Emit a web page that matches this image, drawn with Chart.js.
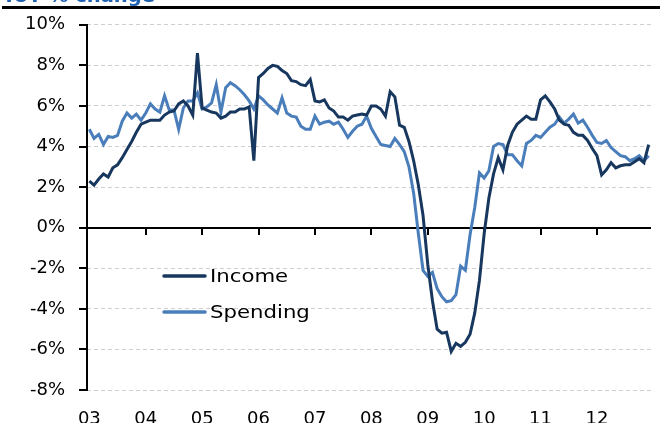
<!DOCTYPE html>
<html><head><meta charset="utf-8">
<script src="https://cdn.jsdelivr.net/npm/chart.js@4.4.0/dist/chart.umd.min.js"></script>
<style>html,body{margin:0;padding:0;background:#fff;}#wrap{width:663px;height:423px;position:relative;}</style>
</head><body><div id="wrap"><canvas id="c" width="663" height="423"></canvas></div>
<script>
const titleText = 'YoY % change';
const yearLabels = ['03','04','05','06','07','08','09','10','11','12'];
const seriesNames = ['Income','Spending'];
const yTickValues = [-8,-6,-4,-2,0,2,4,6,8,10];
const incomeValues = [
 2.3,2.1,2.4,2.65,2.5,2.95,3.1,3.45,3.85,4.25,4.7,5.1,
 5.2,5.3,5.3,5.3,5.55,5.7,5.75,6.1,6.25,6.0,5.55,8.6,
 5.9,5.8,5.7,5.65,5.4,5.5,5.7,5.7,5.85,5.85,5.95,3.3,
 7.4,7.6,7.85,8.0,7.95,7.75,7.6,7.25,7.2,7.05,7.0,7.3,
 6.25,6.2,6.3,5.9,5.75,5.45,5.45,5.3,5.5,5.55,5.6,5.55,
 6.0,6.0,5.85,5.5,6.7,6.45,5.05,4.95,4.25,3.3,2.1,0.6,
 -1.8,-3.6,-5.0,-5.2,-5.15,-6.1,-5.7,-5.85,-5.65,-5.25,-4.2,-2.6,
 -0.3,1.45,2.65,3.45,2.85,4.05,4.7,5.1,5.3,5.5,5.35,5.35,
 6.3,6.5,6.2,5.85,5.3,5.1,5.05,4.7,4.55,4.55,4.3,3.9,
 3.55,2.6,2.85,3.2,2.95,3.05,3.1,3.1,3.25,3.4,3.2,4.1
];
const spendingValues = [
 4.85,4.4,4.6,4.1,4.5,4.45,4.55,5.25,5.65,5.4,5.6,5.3,
 5.65,6.1,5.85,5.7,6.5,5.8,5.8,4.85,5.9,6.25,6.25,6.65,
 5.85,5.95,6.15,7.05,5.7,6.9,7.15,7.0,6.8,6.55,6.25,5.85,
 6.5,6.3,6.05,5.85,5.65,6.4,5.65,5.5,5.45,5.0,4.85,4.85,
 5.5,5.1,5.2,5.25,5.1,5.2,4.85,4.45,4.75,5.0,5.1,5.5,
 4.9,4.5,4.1,4.05,4.0,4.4,4.1,3.75,3.0,1.7,-0.3,-2.1,
 -2.4,-2.2,-3.0,-3.4,-3.65,-3.6,-3.3,-1.9,-2.1,-0.35,1.0,2.7,
 2.45,2.8,4.0,4.15,4.1,3.6,3.6,3.3,3.05,4.15,4.3,4.55,
 4.45,4.7,4.95,5.1,5.45,5.15,5.35,5.6,5.15,5.3,4.95,4.55,
 4.2,4.15,4.3,3.95,3.75,3.55,3.5,3.3,3.4,3.55,3.3,3.55
];
const toPoints = arr => arr.map((v, i) => ({x: i, y: v}));

const FONT = '"DejaVu Sans", sans-serif';
const decorPlugin = {
  id: 'decor',
  beforeDatasetsDraw(c){
    const ctx = c.ctx, x = c.scales.x, y = c.scales.y, a = c.chartArea;
    const y0 = Math.round(y.getPixelForValue(0));
    const lx = Math.round(a.left);
    ctx.save();
    ctx.setLineDash([]);
    ctx.fillStyle = '#000';
    ctx.fillRect(lx - 1, Math.round(a.top) - 1, 2, Math.round(a.bottom - a.top) + 2);
    yTickValues.forEach(v => {
      const py = Math.round(y.getPixelForValue(v));
      ctx.fillRect(lx - 8, py - 1, 8, 2);
    });
    ctx.fillRect(lx, y0 - 1, Math.round(a.right) - lx, 2);
    for (let k = 1; k < yearLabels.length; k++) {
      const px = Math.round(x.getPixelForValue(k * 12));
      ctx.fillRect(px - 1, y0, 2, 7);
    }
    ctx.restore();
  },
  afterDatasetsDraw(c){
    const ctx = c.ctx;
    ctx.save();
    const rows = [276, 312];
    c.data.datasets.forEach((ds, i) => {
      const yy = rows[i];
      ctx.strokeStyle = ds.borderColor; ctx.lineWidth = 3.5; ctx.lineCap = 'round';
      ctx.beginPath(); ctx.moveTo(164, yy); ctx.lineTo(205, yy); ctx.stroke();
      ctx.save();
      ctx.translate(210, yy + 1);
      ctx.scale(1.18, 1);
      ctx.fillStyle = '#000'; ctx.font = '18px ' + FONT;
      ctx.textBaseline = 'middle'; ctx.textAlign = 'left';
      ctx.fillText(ds.label, 0, 0);
      ctx.restore();
    });
    ctx.restore();
  },
  afterDraw(c){
    const ctx = c.ctx;
    ctx.save();
    ctx.save();
    ctx.translate(2, 2);
    ctx.scale(1.15, 1);
    ctx.fillStyle = '#1f62b4';
    ctx.font = 'bold 17px ' + FONT;
    ctx.textBaseline = 'alphabetic'; ctx.textAlign = 'left';
    ctx.fillText(titleText, 0, 0);
    ctx.restore();
    ctx.fillStyle = '#000';
    ctx.fillRect(2, 6, 658, 3);
    ctx.restore();
  }
};

new Chart(document.getElementById('c'), {
  type: 'line',
  data: {
    datasets: [
      {label: seriesNames[0], data: toPoints(incomeValues), borderColor: '#17375E', borderWidth: 3, pointRadius: 0, tension: 0, fill: false},
      {label: seriesNames[1], data: toPoints(spendingValues), borderColor: '#4A7EBB', borderWidth: 3, pointRadius: 0, tension: 0, fill: false}
    ]
  },
  options: {
    responsive: false,
    animation: false,
    devicePixelRatio: 1,
    layout: {padding: {left: 0, right: 12, top: 22, bottom: 0}},
    plugins: {legend: {display: false}, tooltip: {enabled: false}, title: {display: false}},
    scales: {
      x: {
        type: 'linear', min: -0.5, max: incomeValues.length - 0.5,
        grid: {display: false, drawTicks: false},
        border: {display: false},
        afterBuildTicks: s => { s.ticks = yearLabels.map((_, k) => ({value: k * 12})); },
        afterFit: s => { s.height = 33; },
        ticks: {
          autoSkip: false, maxRotation: 0, padding: 19, color: '#000',
          font: {family: FONT, size: 18},
          callback: (v, i) => yearLabels[i]
        }
      },
      y: {
        min: yTickValues[0], max: yTickValues[yTickValues.length - 1],
        afterBuildTicks: s => { s.ticks = yTickValues.map(v => ({value: v})); },
        afterFit: s => { s.width = 87; },
        grid: {color: '#cfcfcf', lineWidth: 1, drawTicks: true, tickLength: 8, tickColor: 'rgba(0,0,0,0)'},
        border: {display: false, dash: [4, 3]},
        ticks: {
          padding: 14, color: '#000',
          font: {family: FONT, size: 18},
          callback: v => v + '%'
        }
      }
    }
  },
  plugins: [decorPlugin]
});
</script></body></html>
